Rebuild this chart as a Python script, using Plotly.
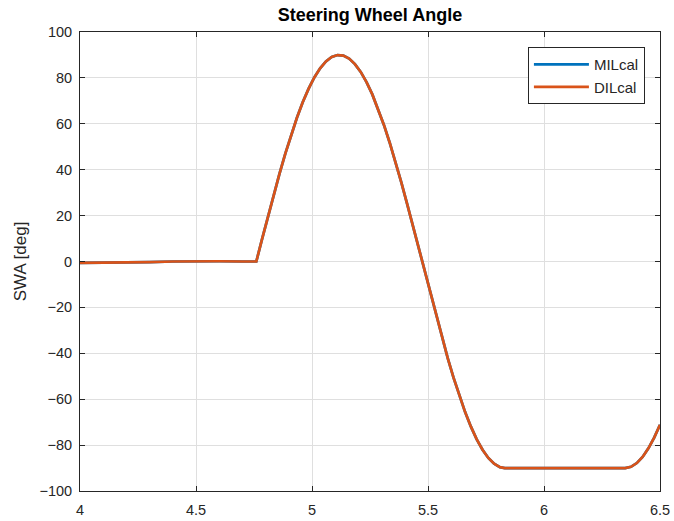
import plotly.graph_objects as go

# Time [s] and steering wheel angle [deg] samples
time_s = [
    4.00, 4.10, 4.20, 4.30, 4.40, 4.50, 4.60, 4.70, 4.76,
    4.785, 4.81, 4.835, 4.86, 4.885, 4.91, 4.935, 4.96, 4.985, 5.01,
    5.035, 5.06, 5.085, 5.11, 5.135, 5.16, 5.185, 5.21, 5.235, 5.26,
    5.285, 5.31, 5.335, 5.36, 5.385, 5.41, 5.435, 5.46, 5.485, 5.51,
    5.535, 5.56, 5.585, 5.61, 5.635, 5.66, 5.685, 5.71, 5.735, 5.76,
    5.785, 5.81, 5.831,
    6.00, 6.20, 6.35,
    6.375, 6.40, 6.425, 6.45, 6.475, 6.50,
]
swa_mil = [
    -0.6, -0.6, -0.5, -0.3, 0.0, 0.2, 0.1, 0.0, 0.0,
    9.88, 19.63, 29.15, 38.32, 47.03, 55.16, 62.63, 69.35, 75.23, 80.19,
    84.19, 87.17, 89.10, 89.96, 89.72, 88.41, 86.02, 82.60, 78.18, 72.81,
    66.57, 59.52, 51.75, 43.36, 34.44, 25.11, 15.47, 5.65, -4.24, -14.08,
    -23.75, -33.13, -42.11, -50.59, -58.45, -65.61, -71.97, -77.47, -82.03, -85.60,
    -88.13, -89.60, -90.0,
    -90.0, -90.0, -90.0,
    -89.46, -87.83, -85.15, -81.43, -76.74, -71.11,
]
swa_dil = list(swa_mil)

x_ticks = [4, 4.5, 5, 5.5, 6, 6.5]
x_tick_labels = ["4", "4.5", "5", "5.5", "6", "6.5"]
y_ticks = [100, 80, 60, 40, 20, 0, -20, -40, -60, -80, -100]

FONT = "Liberation Sans, Arial, Helvetica, sans-serif"
TXT = "#262626"
GRID = "#DFDFDF"

# Plot-area placement in pixels
W, H = 674, 521
L, R, T, B = 80, 14, 32, 30

fig = go.Figure()
fig.add_trace(go.Scatter(
    x=time_s, y=swa_mil, mode="lines", name="MILcal",
    line=dict(color="#0072BD", width=2.7),
))
fig.add_trace(go.Scatter(
    x=time_s, y=swa_dil, mode="lines", name="DILcal",
    line=dict(color="#D95319", width=2.7),
))

axis_common = dict(
    showline=True, linecolor=TXT, linewidth=1, mirror="ticks",
    ticks="inside", ticklen=5, tickcolor=TXT,
    showgrid=True, gridcolor=GRID, gridwidth=1,
    zeroline=False, automargin=False,
    tickfont=dict(family=FONT, size=14.5, color=TXT),
)

fig.update_xaxes(
    range=[4, 6.5], tickvals=x_ticks, ticktext=x_tick_labels,
    ticklabelstandoff=6,
    **axis_common,
)
fig.update_yaxes(
    range=[-100, 100], tickvals=y_ticks,
    ticklabelstandoff=4,
    title=dict(text="SWA [deg]", font=dict(family=FONT, size=17, color=TXT), standoff=8),
    **axis_common,
)

fig.update_layout(
    width=W, height=H,
    margin=dict(l=L, r=R, t=T, b=B),
    paper_bgcolor="white", plot_bgcolor="white",
    title=dict(
        text="<b>Steering Wheel Angle</b>",
        x=(L + (W - L - R) / 2) / W, xanchor="center",
        y=1 - 15 / H, yanchor="middle",
        font=dict(family=FONT, size=18, color="#000000"),
    ),
    legend=dict(
        x=0.974, xanchor="right", y=0.967, yanchor="top",
        bgcolor="white", bordercolor=TXT, borderwidth=1,
        font=dict(family=FONT, size=15, color=TXT),
        itemwidth=55, tracegroupgap=0,
    ),
    showlegend=True,
)

fig.write_html("out.html")
